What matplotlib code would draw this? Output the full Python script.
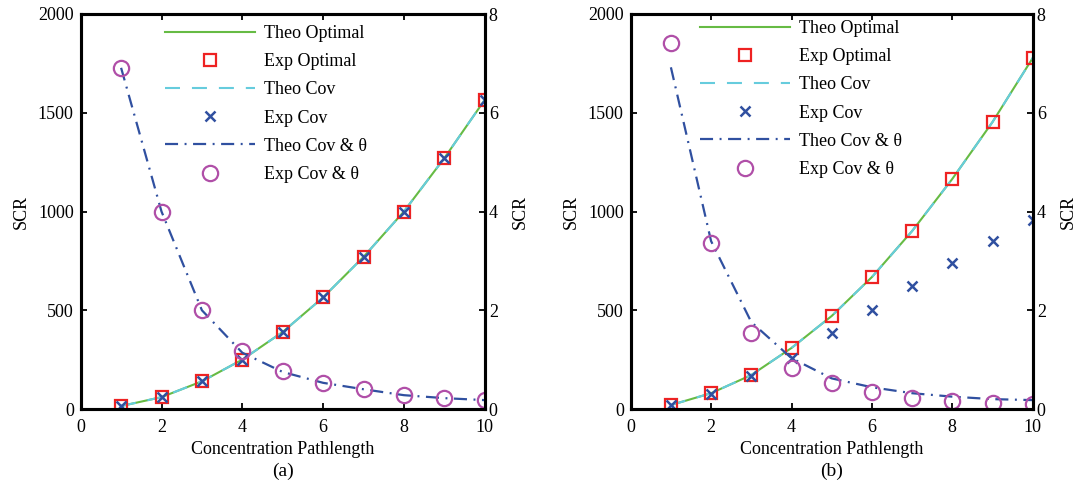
import matplotlib
matplotlib.use("Agg")
import matplotlib.pyplot as plt

plt.rcParams['font.family'] = ['Liberation Serif', 'DejaVu Serif']
plt.rcParams['font.size'] = 13
plt.rcParams['lines.scale_dashes'] = False

# ---------------- data ----------------
x = [1, 2, 3, 4, 5, 6, 7, 8, 9, 10]

# panel (a)
a_theo_opt = [15, 60, 140, 250, 390, 565, 770, 1000, 1270, 1565]
a_exp_opt = [15, 60, 140, 250, 390, 565, 770, 1000, 1270, 1565]
a_theo_cov = [15, 60, 140, 250, 390, 565, 770, 1000, 1270, 1565]
a_exp_cov = [15, 60, 140, 250, 390, 565, 770, 1000, 1270, 1565]
a_theo_covth = [6.91, 4.0, 2.0, 1.14, 0.75, 0.53, 0.40, 0.28, 0.22, 0.18]
a_exp_covth = [6.91, 4.0, 2.0, 1.18, 0.76, 0.53, 0.40, 0.28, 0.22, 0.18]

# panel (b)
b_theo_opt = [20, 80, 172, 309, 471, 668, 901, 1165, 1453, 1777]
b_exp_opt = [20, 80, 172, 309, 471, 668, 901, 1165, 1453, 1777]
b_theo_cov = [20, 80, 172, 309, 471, 668, 901, 1165, 1453, 1777]
b_exp_cov = [20, 75, 165, 256, 385, 503, 624, 741, 852, 957]
b_theo_covth = [6.92, 3.40, 1.76, 1.03, 0.62, 0.44, 0.32, 0.25, 0.20, 0.18]
b_exp_covth = [7.41, 3.36, 1.53, 0.83, 0.52, 0.34, 0.23, 0.16, 0.13, 0.10]

xticks = [0, 2, 4, 6, 8, 10]
yticks_left = [0, 500, 1000, 1500, 2000]
yticks_right = [0, 2, 4, 6, 8]
labels = ['Theo Optimal', 'Exp Optimal', 'Theo Cov', 'Exp Cov',
          'Theo Cov & θ', 'Exp Cov & θ']
panel_tags = ['(a)', '(b)']

# ---------------- styles ----------------
GREEN = '#66bb44'
RED = '#ee2222'
CYAN = '#66ccdd'
BLUE = '#3050a0'
MAGENTA = '#b04fa8'
LW = 1.5

fig = plt.figure(figsize=(10.8, 4.91), dpi=100)

panels = [
    (a_theo_opt, a_exp_opt, a_theo_cov, a_exp_cov, a_theo_covth, a_exp_covth),
    (b_theo_opt, b_exp_opt, b_theo_cov, b_exp_cov, b_theo_covth, b_exp_covth),
]
rects = [
    [80.7 / 1080, 82 / 491, 404 / 1080, 395 / 491],
    [630.7 / 1080, 82 / 491, 402 / 1080, 395 / 491],
]
leg_anchor = [(165 / 1080, 1 - 25 / 491), (700 / 1080, 1 - 20 / 491)]

for i, (data, rect) in enumerate(zip(panels, rects)):
    theo_opt, exp_opt, theo_cov, exp_cov, theo_covth, exp_covth = data
    ax = fig.add_axes(rect)
    ax2 = ax.twinx()

    h1, = ax.plot(x, theo_opt, color=GREEN, lw=LW, zorder=2)
    h3, = ax.plot(x, theo_cov, color=CYAN, lw=LW, dashes=(10.8, 8.6), zorder=3)
    h2, = ax.plot(x, exp_opt, ls='none', marker='s', ms=9, mfc='none',
                  mec=RED, mew=1.6, zorder=4)
    h4, = ax.plot(x, exp_cov, ls='none', marker='x', ms=7.5, color=BLUE,
                  mew=1.8, zorder=5)
    h5, = ax2.plot(x, theo_covth, color=BLUE, lw=1.6,
                   dashes=(9.4, 4.7, 1.4, 4.7))
    h6, = ax2.plot(x, exp_covth, ls='none', marker='o', ms=11, mfc='none',
                   mec=MAGENTA, mew=1.6)

    ax.set_xlim(0, 10)
    ax.set_ylim(0, 2000)
    ax2.set_ylim(0, 8)
    ax.set_xticks(xticks)
    ax.set_yticks(yticks_left)
    ax2.set_yticks(yticks_right)

    ax.tick_params(axis='x', direction='in', top=True, bottom=True,
                   length=4, width=1.3, pad=7)
    ax.tick_params(axis='y', direction='in', left=True, right=False,
                   length=4, width=1.3, pad=5)
    ax2.tick_params(axis='y', direction='in', right=True, left=False,
                    length=4, width=1.3, pad=3)
    for a in (ax, ax2):
        for sp in a.spines.values():
            sp.set_linewidth(2.2)

    ax.set_ylabel('SCR', labelpad=6)
    ax2.set_ylabel('SCR', labelpad=10)
    ax.set_xlabel('Concentration Pathlength', labelpad=4)
    ax.text(0.5, -0.157, panel_tags[i], transform=ax.transAxes,
            ha='center', va='center', fontsize=14)

    ax2.legend([h1, h2, h3, h4, h5, h6], labels, frameon=False,
               loc='upper left', bbox_to_anchor=leg_anchor[i],
               bbox_transform=fig.transFigure, borderpad=0, borderaxespad=0,
               handlelength=5.0, handletextpad=0.5, labelspacing=0.62,
               fontsize=13)

fig.savefig('out.png', dpi=100)
